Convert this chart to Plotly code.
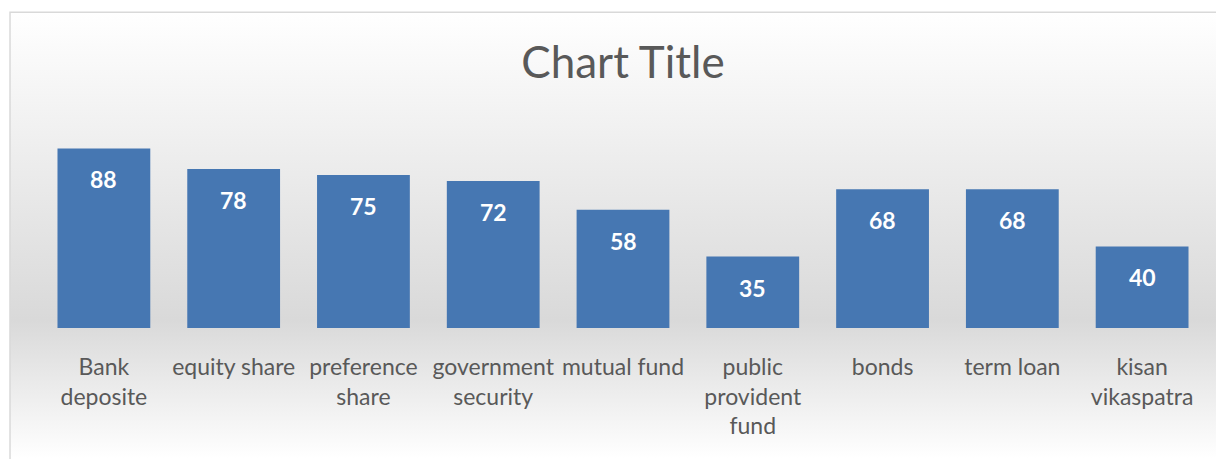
import urllib.parse

import plotly.graph_objects as go

# Dane wykresu
categories = ["Bank deposite", "equity share", "preference share",
              "government security", "mutual fund", "public provident fund",
              "bonds", "term loan", "kisan vikaspatra"]
values = [88, 78, 75, 72, 58, 35, 68, 68, 40]
tick_labels = ["Bank<br>deposite", "equity share", "preference<br>share",
               "government<br>security", "mutual fund",
               "public<br>provident<br>fund", "bonds", "term loan",
               "kisan<br>vikaspatra"]

# strona HTML ma 8 px marginesu, więc figura jest o 8 px mniejsza
W, H = 1216, 451
ML, MR, MT, MB = 30.5, 17, 115.5, 131
PW, PH = W - ML - MR, H - MT - MB

BAR_COLOR = "#4677b2"
TEXT_GREY = "#595959"
FONT = "Lato"

# Tło w stylu Excela: gradient biały -> szary -> biały
svg = ('<svg xmlns="http://www.w3.org/2000/svg" width="100" height="100" '
       'viewBox="0 0 100 100" preserveAspectRatio="none">'
       '<defs><linearGradient id="g" x1="0" y1="0" x2="0" y2="1">'
       '<stop offset="0" stop-color="#ffffff"/>'
       '<stop offset="0.69" stop-color="#d9d9d9"/>'
       '<stop offset="1" stop-color="#ffffff"/>'
       '</linearGradient></defs>'
       '<rect width="100" height="100" fill="url(#g)"/></svg>')
bg_src = "data:image/svg+xml;charset=utf-8," + urllib.parse.quote(svg)


def px_to_paper_x(px):
    return (px - ML) / PW


def px_to_paper_y(py):
    return (H - MB - py) / PH


fig = go.Figure()
fig.add_trace(go.Bar(
    x=categories, y=values,
    marker=dict(color=BAR_COLOR, line=dict(width=0)),
    showlegend=False, hoverinfo="x+y",
))

# etykiety danych (biały, pogrubiony) ~31 px poniżej szczytu słupka
for c, v in zip(categories, values):
    fig.add_annotation(
        x=c, y=v, text=f"<b>{v}</b>", showarrow=False,
        yanchor="middle", yshift=-31,
        font=dict(family=FONT, size=23, color="white"),
    )

fig.add_layout_image(
    source=bg_src, xref="paper", yref="paper",
    x=px_to_paper_x(1), y=px_to_paper_y(3),
    sizex=(W + 10) / PW, sizey=(H - 3) / PH,
    xanchor="left", yanchor="top", sizing="stretch", layer="below",
)

# ramka wykresu
fig.add_shape(
    type="rect", xref="paper", yref="paper",
    x0=px_to_paper_x(1.5), x1=px_to_paper_x(W + 10),
    y0=px_to_paper_y(H + 10), y1=px_to_paper_y(3.5),
    line=dict(color="#d9d9d9", width=1.5), fillcolor="rgba(0,0,0,0)",
    layer="above",
)

fig.update_layout(
    width=W, height=H,
    margin=dict(l=ML, r=MR, t=MT, b=MB, pad=0),
    paper_bgcolor="white", plot_bgcolor="rgba(0,0,0,0)",
    bargap=0.285,
    title=dict(text="Chart Title", x=0.5, xref="paper", xanchor="center",
               y=1 - 55 / H, yanchor="middle",
               font=dict(family=FONT, size=44, color=TEXT_GREY)),
    font=dict(family=FONT, color=TEXT_GREY),
)
fig.update_xaxes(
    tickmode="array", tickvals=categories, ticktext=tick_labels,
    tickfont=dict(family=FONT, size=23, color=TEXT_GREY),
    ticks="outside", ticklen=18, tickcolor="rgba(0,0,0,0)",
    showline=False, showgrid=False, zeroline=False,
)
fig.update_yaxes(range=[0, 100], visible=False, showgrid=False, zeroline=False)

fig.write_html("out.html")
